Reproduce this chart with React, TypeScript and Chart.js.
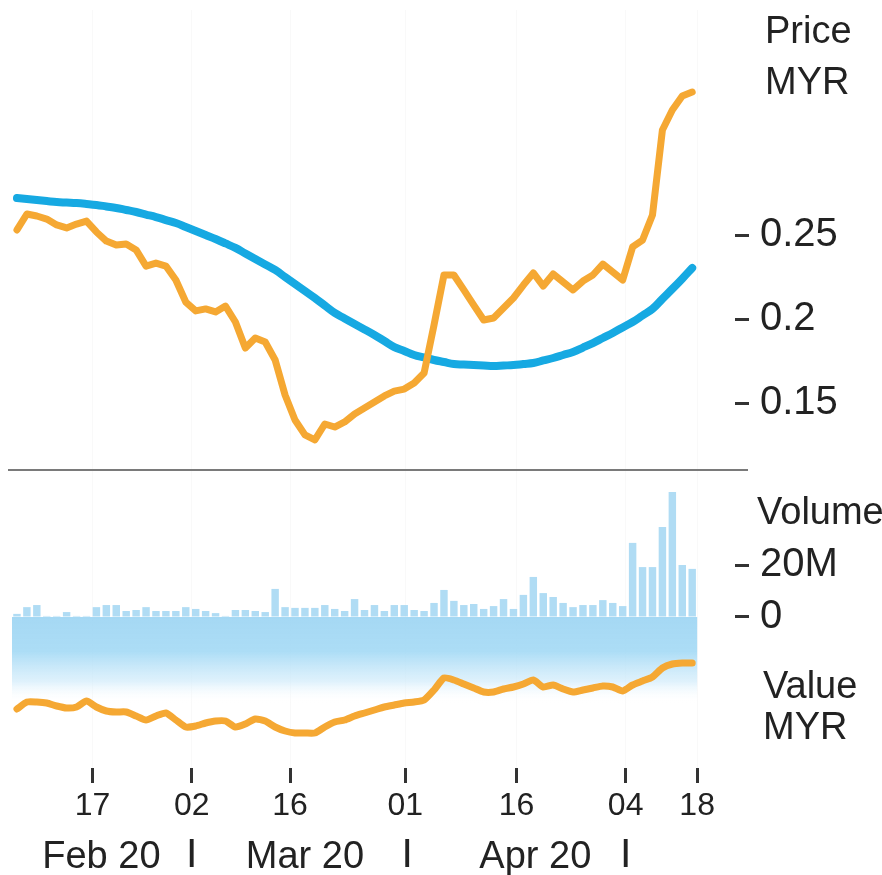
import { useEffect, useRef } from 'react';
import { Chart, registerables } from 'chart.js';

Chart.register(...registerables);

// ---- data (one entry per trading day, index 0..68) ----
const priceClose = [
  0.2530, 0.2625, 0.2613, 0.2595, 0.2560, 0.2542, 0.2565, 0.2583, 0.2518, 0.2464,
  0.2440, 0.2446, 0.2411, 0.2315, 0.2333, 0.2315, 0.2232, 0.2101, 0.2048, 0.2060,
  0.2042, 0.2077, 0.1982, 0.1827, 0.1887, 0.1863, 0.1756, 0.1548, 0.1399, 0.1310,
  0.1280, 0.1375, 0.1357, 0.1387, 0.1435, 0.1470, 0.1506, 0.1542, 0.1571, 0.1583,
  0.1619, 0.1679, 0.1964, 0.2262, 0.2262, 0.2173, 0.2083, 0.1994, 0.2006, 0.2065,
  0.2125, 0.2202, 0.2274, 0.2196, 0.2268, 0.2220, 0.2173, 0.2226, 0.2262, 0.2327,
  0.2280, 0.2232, 0.2429, 0.2470, 0.2619, 0.3125, 0.3244, 0.3327, 0.3351,
];

const priceMA = [
  0.2720, 0.2714, 0.2708, 0.2702, 0.2696, 0.2693, 0.2690, 0.2685, 0.2679, 0.2670,
  0.2661, 0.2649, 0.2637, 0.2622, 0.2607, 0.2589, 0.2571, 0.2548, 0.2524, 0.2500,
  0.2476, 0.2450, 0.2423, 0.2390, 0.2357, 0.2325, 0.2292, 0.2250, 0.2208, 0.2167,
  0.2125, 0.2080, 0.2036, 0.2003, 0.1970, 0.1938, 0.1905, 0.1869, 0.1833, 0.1810,
  0.1786, 0.1771, 0.1756, 0.1744, 0.1732, 0.1729, 0.1726, 0.1723, 0.1720, 0.1723,
  0.1726, 0.1732, 0.1738, 0.1753, 0.1768, 0.1786, 0.1804, 0.1830, 0.1857, 0.1887,
  0.1917, 0.1950, 0.1982, 0.2021, 0.2060, 0.2120, 0.2179, 0.2240, 0.2304,
];

// volume in millions of shares
const volumeM = [
  1.2, 3.8, 4.6, 0.4, 0.4, 1.9, 0.4, 0.4, 3.8, 4.6,
  4.6, 2.3, 2.7, 3.8, 2.3, 2.3, 2.3, 3.8, 3.1, 2.3,
  1.5, 0.4, 2.7, 2.7, 2.3, 1.9, 10.8, 3.8, 3.5, 3.5,
  3.5, 4.6, 3.1, 2.3, 6.9, 2.7, 4.6, 2.3, 4.6, 4.6,
  2.7, 2.3, 5.4, 10.4, 6.2, 4.6, 5.0, 3.1, 4.2, 6.9,
  3.1, 8.5, 15.4, 9.2, 7.7, 5.4, 3.8, 4.6, 4.6, 6.5,
  5.4, 4.2, 28.5, 19.2, 19.2, 34.6, 48.1, 20.0, 18.5,
];

// traded value, MYR millions
const valueMYR = [
  2.95, 3.30, 3.30, 3.25, 3.10, 3.00, 3.05, 3.35, 3.05, 2.85,
  2.80, 2.80, 2.60, 2.40, 2.60, 2.75, 2.40, 2.05, 2.10, 2.25,
  2.35, 2.35, 2.05, 2.20, 2.45, 2.35, 2.05, 1.85, 1.75, 1.75,
  1.75, 2.05, 2.30, 2.40, 2.60, 2.75, 2.90, 3.05, 3.15, 3.25,
  3.30, 3.40, 3.90, 4.50, 4.40, 4.20, 4.00, 3.80, 3.80, 3.95,
  4.05, 4.20, 4.40, 4.05, 4.15, 3.95, 3.80, 3.90, 4.00, 4.10,
  4.05, 3.85, 4.15, 4.35, 4.55, 5.00, 5.20, 5.25, 5.25,
];

const dayTickPos = [7.6, 17.6, 27.5, 39.1, 50.3, 61.3, 68.5];
const dayTickLabels = ['17', '02', '16', '01', '16', '04', '18'];
const monthTickPos = [8.5, 17.6, 29.0, 39.3, 52.2, 61.3];
const monthTickLabels = ['Feb 20', '|', 'Mar 20', '|', 'Apr 20', '|'];
const priceTicks = [0.15, 0.2, 0.25];
const volumeTicks = [0, 20];

const FONT = "'Liberation Sans', Arial, Helvetica, sans-serif";
const ORANGE = '#F5A833';
const BLUE = '#16A9E2';
const BAR = 'rgba(150,208,240,0.75)';
const TEXT = '#222222';

const decorPlugin = {
  id: 'decor',
  beforeDatasetsDraw(chart: any) {
    const { ctx, scales } = chart;
    const x = scales.x;
    const yV = scales.yVol;
    const left = x.getPixelForValue(-0.5);
    const right = x.getPixelForValue(volumeM.length - 0.5);
    const top = yV.getPixelForValue(0);
    const bottom = yV.getPixelForValue(-33);
    const g = ctx.createLinearGradient(0, top, 0, bottom);
    g.addColorStop(0, 'rgba(160,214,243,0.95)');
    g.addColorStop(0.4, 'rgba(165,218,245,0.92)');
    g.addColorStop(0.75, 'rgba(205,234,250,0.65)');
    g.addColorStop(1, 'rgba(255,255,255,0)');
    ctx.save();
    ctx.fillStyle = g;
    ctx.fillRect(left, top, right - left, bottom - top);
    ctx.restore();
  },
  afterDraw(chart: any) {
    const { ctx, chartArea, scales } = chart;
    const yP = scales.yPrice;
    ctx.save();
    ctx.strokeStyle = '#7a7a7a';
    ctx.lineWidth = 2;
    ctx.beginPath();
    ctx.moveTo(chartArea.left - 4, yP.bottom);
    ctx.lineTo(chartArea.right + 13, yP.bottom);
    ctx.stroke();
    ctx.fillStyle = TEXT;
    ctx.font = `38px ${FONT}`;
    ctx.textAlign = 'left';
    ctx.textBaseline = 'alphabetic';
    const tx = chartArea.right + 30;
    ctx.fillText('Price', tx, 43);
    ctx.fillText('MYR', tx, 94);
    ctx.fillText('Volume', chartArea.right + 22, 524);
    ctx.fillText('Value', tx - 2, 698);
    ctx.fillText('MYR', tx - 2, 739);
    ctx.restore();
  },
};

const noVPad = (s: any) => {
  s.width = 147;
  s.paddingTop = 0;
  s.paddingBottom = 0;
};

export default function App() {
  const ref = useRef<HTMLCanvasElement | null>(null);

  useEffect(() => {
    if (!ref.current) return;
    const xy = (arr: number[]) => arr.map((v, i) => ({ x: i, y: v }));
    const chart = new Chart(ref.current, {
      type: 'line',
      data: {
        datasets: [
          {
            type: 'line',
            label: 'Price',
            data: xy(priceClose),
            yAxisID: 'yPrice',
            borderColor: ORANGE,
            borderWidth: 7,
            pointRadius: 0,
            tension: 0,
            borderJoinStyle: 'round',
            borderCapStyle: 'round',
            order: 0,
          },
          {
            type: 'line',
            label: 'Moving average',
            data: xy(priceMA),
            yAxisID: 'yPrice',
            borderColor: BLUE,
            borderWidth: 8,
            pointRadius: 0,
            tension: 0.4,
            borderCapStyle: 'round',
            order: 1,
          },
          {
            type: 'line',
            label: 'Value',
            data: xy(valueMYR),
            yAxisID: 'yVal',
            borderColor: ORANGE,
            borderWidth: 7,
            pointRadius: 0,
            tension: 0.2,
            borderJoinStyle: 'round',
            borderCapStyle: 'round',
            order: 2,
          },
          {
            type: 'bar',
            label: 'Volume',
            data: xy(volumeM),
            yAxisID: 'yVol',
            backgroundColor: BAR,
            borderWidth: 0,
            categoryPercentage: 0.75,
            barPercentage: 1,
            order: 3,
          },
        ] as any,
      },
      options: {
        animation: false,
        responsive: true,
        maintainAspectRatio: false,
        events: [],
        layout: { padding: { left: 12, top: 10, right: 0, bottom: 0 } },
        plugins: { legend: { display: false }, tooltip: { enabled: false } },
        scales: {
          x: {
            type: 'linear',
            position: 'bottom',
            min: -0.5,
            max: 72.31,
            offset: false,
            grid: {
              display: true,
              drawOnChartArea: true,
              color: 'rgba(0,0,0,0.025)',
              tickColor: '#333',
              tickLength: 15,
              tickWidth: 3,
              offset: false,
            },
            border: { display: false },
            ticks: {
              autoSkip: false,
              maxRotation: 0,
              minRotation: 0,
              padding: 4,
              color: TEXT,
              font: { family: FONT, size: 32 },
              callback: (_v: any, i: number) => dayTickLabels[i] ?? '',
            },
            afterBuildTicks: (s: any) => {
              s.ticks = dayTickPos.map((v) => ({ value: v }));
            },
            afterFit: (s: any) => {
              s.height = 62;
              s.paddingLeft = 0;
              s.paddingRight = 0;
            },
          },
          x2: {
            type: 'linear',
            position: 'bottom',
            axis: 'x',
            min: -0.5,
            max: 72.31,
            offset: false,
            grid: { display: false, drawTicks: false },
            border: { display: false },
            ticks: {
              autoSkip: false,
              maxRotation: 0,
              minRotation: 0,
              padding: 5,
              color: TEXT,
              font: (c: any) =>
                c.tick && c.tick.label === '|'
                  ? { family: FONT, size: 30, weight: 'bold' }
                  : { family: FONT, size: 38 },
              callback: (_v: any, i: number) => monthTickLabels[i] ?? '',
            },
            afterBuildTicks: (s: any) => {
              s.ticks = monthTickPos.map((v) => ({ value: v }));
            },
            afterFit: (s: any) => {
              s.height = 45;
              s.paddingLeft = 0;
              s.paddingRight = 0;
            },
          },
          yPrice: {
            type: 'linear',
            position: 'right',
            stack: 'right',
            stackWeight: 460,
            min: 0.11012,
            max: 0.38393,
            grid: {
              display: true,
              drawOnChartArea: false,
              tickLength: 14,
              tickWidth: 3,
              tickColor: '#333',
            },
            border: { display: false },
            ticks: {
              padding: 11,
              color: TEXT,
              font: { family: FONT, size: 40 },
              callback: (v: any) => String(v),
            },
            afterBuildTicks: (s: any) => {
              s.ticks = priceTicks.map((v) => ({ value: v }));
            },
            afterFit: noVPad,
          },
          yVol: {
            type: 'linear',
            position: 'right',
            stack: 'right',
            stackWeight: 298,
            min: -58.08,
            max: 56.54,
            grid: {
              display: true,
              drawOnChartArea: false,
              tickLength: 14,
              tickWidth: 3,
              tickColor: '#333',
            },
            border: { display: false },
            ticks: {
              padding: 11,
              color: TEXT,
              font: { family: FONT, size: 40 },
              callback: (v: any) => (Number(v) === 0 ? '0' : `${v}M`),
            },
            afterBuildTicks: (s: any) => {
              s.ticks = volumeTicks.map((v) => ({ value: v }));
            },
            afterFit: noVPad,
          },
          yVal: {
            type: 'linear',
            display: false,
            min: 0,
            max: 37.9,
          },
        } as any,
      },
      plugins: [decorPlugin],
    });
    return () => chart.destroy();
  }, []);

  return (
    <div style={{ position: 'absolute', left: 0, top: 0, width: 882, height: 875, background: '#fff' }}>
      <canvas ref={ref} />
    </div>
  );
}
